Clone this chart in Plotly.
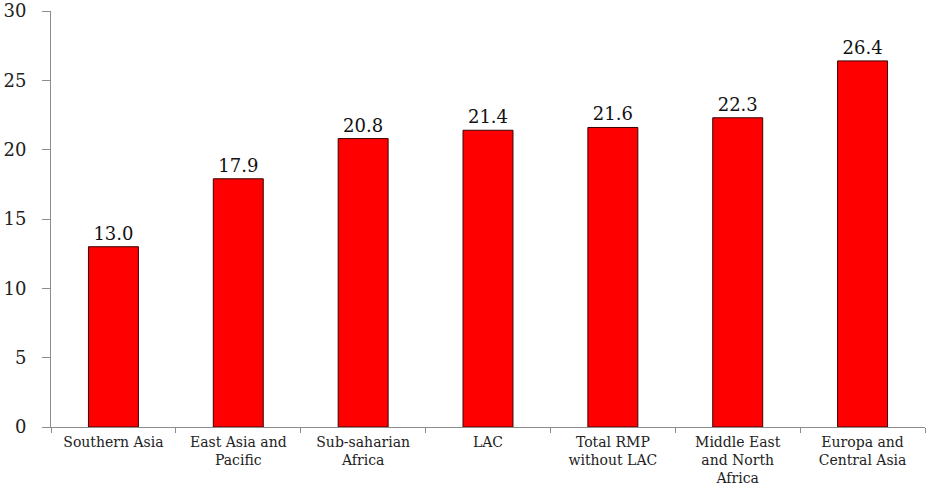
import plotly.graph_objects as go

categories = [
    "Southern Asia",
    "East Asia and<br>Pacific",
    "Sub-saharian<br>Africa",
    "LAC",
    "Total RMP<br>without LAC",
    "Middle East<br>and North<br>Africa",
    "Europa and<br>Central Asia",
]
values = [13.0, 17.9, 20.8, 21.4, 21.6, 22.3, 26.4]
y_ticks = [0, 5, 10, 15, 20, 25, 30]

serif = "DejaVu Serif"

fig = go.Figure(
    go.Bar(
        x=categories,
        y=values,
        marker=dict(color="#ff0000", line=dict(color="#3a0000", width=1)),
        text=[f"{v:.1f}" for v in values],
        textposition="outside",
        textfont=dict(family=serif, size=18, color="#111111"),
        cliponaxis=False,
    )
)

fig.update_layout(
    width=932,
    height=487,
    margin=dict(l=51, r=7, t=11, b=60),
    paper_bgcolor="white",
    plot_bgcolor="white",
    bargap=0.6,
    showlegend=False,
    font=dict(family=serif, color="#222222"),
)

fig.update_xaxes(
    automargin=False,
    showline=True,
    linecolor="#8c8c8c",
    linewidth=1,
    ticks="outside",
    tickson="boundaries",
    ticklen=5,
    tickcolor="#8c8c8c",
    ticklabelstandoff=2,
    tickfont=dict(family=serif, size=14, color="#222222"),
    showgrid=False,
)

fig.update_yaxes(
    automargin=False,
    range=[0, 30],
    tickvals=y_ticks,
    showline=True,
    linecolor="#8c8c8c",
    linewidth=1,
    ticks="outside",
    ticklen=8,
    tickcolor="#8c8c8c",
    ticklabelstandoff=12,
    tickfont=dict(family=serif, size=18, color="#222222"),
    showgrid=False,
    zeroline=False,
)

fig.write_html("out.html")
